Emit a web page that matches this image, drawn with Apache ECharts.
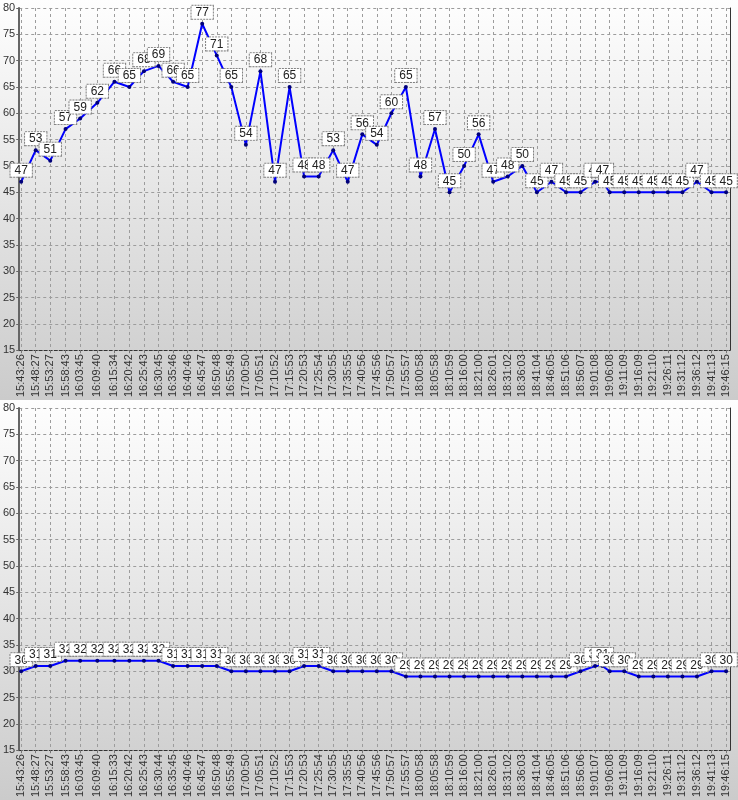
<!DOCTYPE html>
<html><head><meta charset="utf-8">
<script src="https://cdn.jsdelivr.net/npm/echarts@6/dist/echarts.min.js"></script>
<style>
html,body{margin:0;padding:0;background:#fff;}
.panel{width:738px;height:400px;background:linear-gradient(to bottom,#fefefe 0%,#cbcbcb 100%);}
</style></head><body>
<div id="c1" class="panel"></div><div id="c2" class="panel"></div>
<script>
// Top chart
const ticks1 = ['15:43:26','15:48:27','15:53:27','15:58:43','16:03:45','16:09:40','16:15:34','16:20:42','16:25:43','16:30:45','16:35:46','16:40:46','16:45:47','16:50:48','16:55:49','17:00:50','17:05:51','17:10:52','17:15:53','17:20:53','17:25:54','17:30:55','17:35:55','17:40:56','17:45:56','17:50:57','17:55:57','18:00:58','18:05:58','18:10:59','18:16:00','18:21:00','18:26:01','18:31:02','18:36:03','18:41:04','18:46:05','18:51:06','18:56:07','19:01:08','19:06:08','19:11:09','19:16:09','19:21:10','19:26:11','19:31:12','19:36:12','19:41:13','19:46:15'];
const times1 = ['15:43:26','15:48:27','15:53:27','15:58:43','16:03:45','16:09:40','16:15:34','16:20:42','16:25:43','16:30:45','16:35:46','16:40:46','16:45:47','16:50:48','16:55:49','17:00:50','17:05:51','17:10:52','17:15:53','17:20:53','17:25:54','17:30:55','17:35:55','17:40:56','17:45:56','17:50:57','17:55:57','18:00:58','18:05:58','18:10:59','18:16:00','18:21:00','18:26:01','18:31:02','18:36:03','18:41:04','18:46:05','18:51:06','18:56:07','19:01:08','19:03:38','19:06:08','19:11:09','19:16:09','19:21:10','19:26:11','19:31:12','19:36:12','19:41:13','19:46:15'];
const values1 = [47,53,51,57,59,62,66,65,68,69,66,65,77,71,65,54,68,47,65,48,48,53,47,56,54,60,65,48,57,45,50,56,47,48,50,45,47,45,45,47,47,45,45,45,45,45,45,47,45,45];
// Bottom chart
const ticks2 = ['15:43:26','15:48:27','15:53:27','15:58:43','16:03:45','16:09:40','16:15:33','16:20:42','16:25:43','16:30:44','16:35:45','16:40:46','16:45:47','16:50:48','16:55:49','17:00:50','17:05:51','17:10:52','17:15:53','17:20:53','17:25:54','17:30:55','17:35:55','17:40:56','17:45:56','17:50:57','17:55:57','18:00:58','18:05:58','18:10:59','18:16:00','18:21:00','18:26:01','18:31:02','18:36:03','18:41:04','18:46:05','18:51:06','18:56:06','19:01:07','19:06:08','19:11:09','19:16:09','19:21:10','19:26:11','19:31:12','19:36:12','19:41:13','19:46:15'];
const times2 = ['15:43:26','15:48:27','15:53:27','15:58:43','16:03:45','16:09:40','16:15:33','16:20:42','16:25:43','16:30:44','16:35:45','16:40:46','16:45:47','16:50:48','16:55:49','17:00:50','17:05:51','17:10:52','17:15:53','17:20:53','17:25:54','17:30:55','17:35:55','17:40:56','17:45:56','17:50:57','17:55:57','18:00:58','18:05:58','18:10:59','18:16:00','18:21:00','18:26:01','18:31:02','18:36:03','18:41:04','18:46:05','18:51:06','18:56:06','19:01:07','19:03:38','19:06:08','19:11:09','19:16:09','19:21:10','19:26:11','19:31:12','19:36:12','19:41:13','19:46:15'];
const values2 = [30,31,31,32,32,32,32,32,32,32,31,31,31,31,30,30,30,30,30,31,31,30,30,30,30,30,29,29,29,29,29,29,29,29,29,29,29,29,30,31,31,30,30,29,29,29,29,29,30,30];
const yMin = 15, yMax = 80, yStep = 5;

function toSec(s){const p=s.split(':').map(Number);return p[0]*3600+p[1]*60+p[2];}
function fmt(v){const h=Math.floor(v/3600),m=Math.floor(v%3600/60),s=Math.round(v%60);const z=n=>(n<10?'0':'')+n;return z(h)+':'+z(m)+':'+z(s);}

function makeOption(ticks, times, values){
  const tickVals = ticks.map(toSec);
  const data = times.map((t,i)=>[toSec(t), values[i]]);
  const font = 'Liberation Sans, Arial, sans-serif';
  const grid = {color:'#9c9c9c',type:[3,3],width:1};
  return {
    animation:false,
    grid:{left:18,right:8,top:8,bottom:47,containLabel:false},
    xAxis:{
      type:'value',
      min: tickVals[0]-40, max: tickVals[tickVals.length-1]+80,
      axisLine:{show:true,onZero:false,lineStyle:{color:'#333',type:[3,2],width:1}},
      axisTick:{show:true,length:3,customValues:tickVals,lineStyle:{color:'#777'}},
      axisLabel:{customValues:tickVals,rotate:90,formatter:fmt,fontSize:11,color:'#333',fontFamily:font,margin:4},
      splitLine:{show:true,lineStyle:grid}
    },
    yAxis:[{
      type:'value',min:yMin,max:yMax,interval:yStep,
      axisLine:{show:true,lineStyle:{color:'#666',width:2}},
      axisTick:{show:true,length:3,lineStyle:{color:'#666'}},
      axisLabel:{fontSize:11,color:'#333',fontFamily:font,margin:4},
      splitLine:{show:true,lineStyle:grid}
    },{
      type:'value',min:yMin,max:yMax,interval:yStep,position:'right',
      axisLine:{show:true,lineStyle:{color:'#333',width:1}},
      axisTick:{show:false},axisLabel:{show:false},splitLine:{show:false}
    }],
    series:[{
      type:'line',data:data,
      symbol:'circle',symbolSize:4,showAllSymbol:true,
      itemStyle:{color:'#00007a'},
      lineStyle:{color:'#0000ff',width:2},
      label:{show:true,position:'top',distance:3,formatter:p=>p.value[1],
        fontSize:12,fontFamily:font,color:'#222',backgroundColor:'#fff',
        borderColor:'#808080',borderWidth:1,borderType:[2,1],padding:[1,4,0,4]}
    }]
  };
}
echarts.init(document.getElementById('c1')).setOption(makeOption(ticks1,times1,values1));
echarts.init(document.getElementById('c2')).setOption(makeOption(ticks2,times2,values2));
</script></body></html>
